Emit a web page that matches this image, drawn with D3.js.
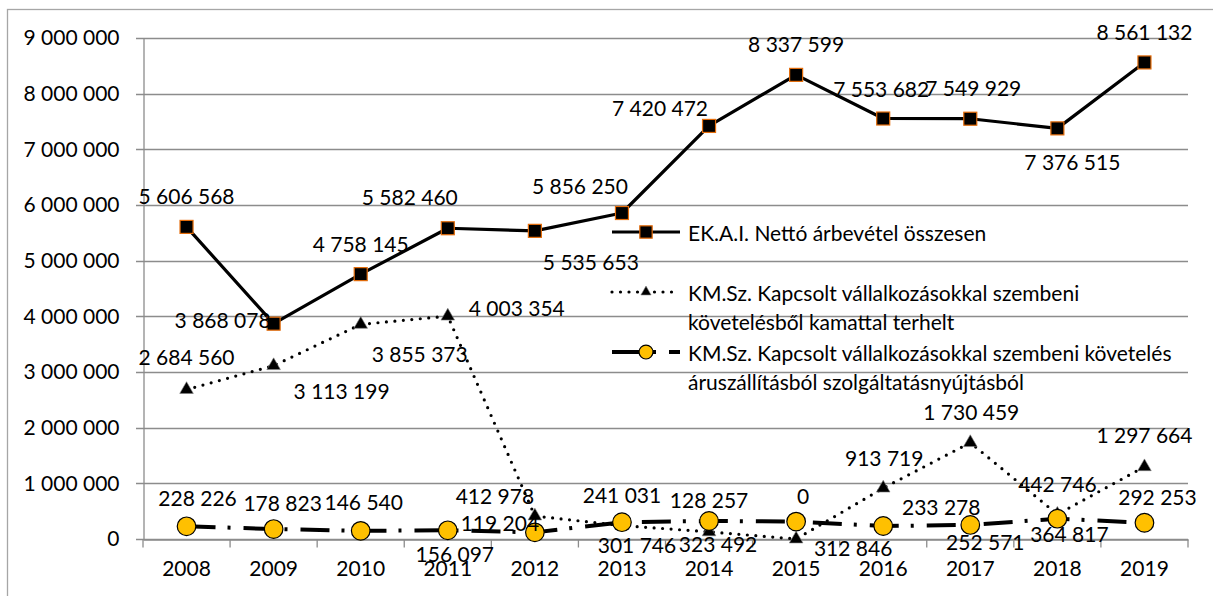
<!DOCTYPE html>
<html>
<head>
<meta charset="utf-8">
<script src="https://cdn.jsdelivr.net/npm/d3@7"></script>
<style>
  body { margin: 0; background: #fff; }
  svg text { font-family: Lato, "Open Sans", sans-serif; fill: #000; }
</style>
</head>
<body>
<svg id="chart" width="1213" height="596"></svg>
<script>
const years = ["2008", "2009", "2010", "2011", "2012", "2013", "2014", "2015", "2016", "2017", "2018", "2019"];
const netRevenue = [5606568, 3868078, 4758145, 5582460, 5535653, 5856250, 7420472, 8337599, 7553682, 7549929, 7376515, 8561132];
const interestClaims = [2684560, 3113199, 3855373, 4003354, 412978, 241031, 128257, 0, 913719, 1730459, 442746, 1297664];
const deliveryClaims = [228226, 178823, 146540, 156097, 119204, 301746, 323492, 312846, 233278, 252571, 364817, 292253];
const yTicks = [0, 1000000, 2000000, 3000000, 4000000, 5000000, 6000000, 7000000, 8000000, 9000000];
const seriesNames = [
  ["EK.A.I. Nettó árbevétel összesen"],
  ["KM.Sz. Kapcsolt vállalkozásokkal szembeni", "követelésből kamattal terhelt"],
  ["KM.Sz. Kapcsolt vállalkozásokkal szembeni követelés", "áruszállításból szolgáltatásnyújtásból"]
];

// label nudges (px from the marker), the way they were placed by hand in the original
const labelShift = [
  [[0,-31],[-51,-4],[0,-31],[-38,-32],[56,31],[-42,-28],[-49,-18],[0,-31],[-2,-30],[3,-31],[15,33],[0,-31]],
  [[0,-33],[68,25],[59,29],[69,-9],[-40,-21],[0,-31],[0,-32],[7,-44],[1,-31],[1,-31],[0,-31],[0,-32]],
  [[11,-29],[9,-27],[3,-29],[7,23],[-35,-10],[15,22],[9,23],[57,26],[58,-20],[15,17],[12,15],[13,-26]]
];

const svg = d3.select("#chart");
const fmt = v => d3.format(",")(v).replace(/,/g, " ");
const fontSize = 21;

const margin = { left: 143, right: 25, top: 38, bottom: 57 };
const W = 1213, H = 596;

const x = d3.scaleBand().domain(years).range([margin.left, W - margin.right]);
const y = d3.scaleLinear().domain([0, 9000000]).range([H - margin.bottom, margin.top]);
const cx = d => x(d) + x.bandwidth() / 2;

// chart border (runs off the right and bottom edges)
svg.append("rect")
  .attr("x", 7.5).attr("y", 9.5).attr("width", W).attr("height", H)
  .attr("fill", "none").attr("stroke", "#a6a6a6").attr("stroke-width", 1.3);

// gridlines
svg.append("g")
  .selectAll("line").data(yTicks).join("line")
  .attr("x1", margin.left - 7).attr("x2", W - margin.right)
  .attr("y1", d => Math.round(y(d)) + 0.5).attr("y2", d => Math.round(y(d)) + 0.5)
  .attr("stroke", "#8c8c8c").attr("stroke-width", 1.3);

// y axis
const yAxis = svg.append("g").attr("transform", `translate(${margin.left + 0.5},0)`)
  .call(d3.axisLeft(y).tickValues(yTicks).tickFormat(fmt).tickSize(0).tickPadding(24));
yAxis.select(".domain").attr("stroke", "#8c8c8c").attr("stroke-width", 1.3);
yAxis.selectAll("text").style("font-size", fontSize + "px").style("font-family", "Lato");

// x axis, ticks sit between categories
const xAxis = svg.append("g").attr("transform", `translate(0,${Math.round(y(0)) + 0.5})`)
  .call(d3.axisBottom(x).tickSize(0).tickPadding(22));
xAxis.select(".domain").attr("stroke", "#8c8c8c").attr("stroke-width", 1.3);
xAxis.selectAll("text").style("font-size", fontSize + "px").style("font-family", "Lato");
xAxis.selectAll(".sep").data(years.concat(["end"])).join("line")
  .attr("class", "sep")
  .attr("x1", (d, i) => margin.left + i * x.bandwidth())
  .attr("x2", (d, i) => margin.left + i * x.bandwidth())
  .attr("y1", 0).attr("y2", 8)
  .attr("stroke", "#8c8c8c").attr("stroke-width", 1.3);

const line = d3.line().x((d, i) => cx(years[i])).y(d => y(d));

const styles = [
  { dash: null, width: 3.2, cap: "butt" },
  { dash: "0,8.5", width: 3.2, cap: "round" },
  { dash: "29,12,3,13", width: 4, cap: "butt" }
];
const allSeries = [netRevenue, interestClaims, deliveryClaims];

function marker(g, k, s) {
  if (k === 0) {
    const h = 6.5 * s;
    g.append("rect").attr("x", -h).attr("y", -h).attr("width", 2 * h).attr("height", 2 * h)
      .attr("fill", "#000").attr("stroke", "#e46c0a").attr("stroke-width", 1.2);
  } else if (k === 1) {
    g.append("path").attr("d", d3.symbol(d3.symbolTriangle, 80 * s * s)())
      .attr("fill", "#000").attr("stroke", "#7f7f7f").attr("stroke-width", 0.6);
  } else {
    g.append("circle").attr("r", 9.3 * s).attr("fill", "#ffc000").attr("stroke", "#000").attr("stroke-width", 1.2);
  }
}

// lines and markers
allSeries.forEach((vals, k) => {
  const st = styles[k];
  svg.append("path").datum(vals)
    .attr("d", line).attr("fill", "none").attr("stroke", "#000")
    .attr("stroke-width", st.width).attr("stroke-linecap", st.cap)
    .attr("stroke-linejoin", "round")
    .attr("stroke-dasharray", st.dash);
  svg.append("g").selectAll("g").data(vals).join("g")
    .attr("transform", (d, i) => `translate(${cx(years[i])},${y(d)})`)
    .each(function () { marker(d3.select(this), k, 1); });
});

// legend
const legendX = 612, legendRows = [232, 292, 352];
seriesNames.forEach((lines, k) => {
  const ly = legendRows[k];
  const st = styles[k];
  const lg = svg.append("g");
  lg.append("line").attr("x1", legendX).attr("x2", legendX + 68)
    .attr("y1", ly).attr("y2", ly).attr("stroke", "#000")
    .attr("stroke-width", st.width).attr("stroke-linecap", st.cap)
    .attr("stroke-dasharray", st.dash);
  const m = lg.append("g").attr("transform", `translate(${legendX + 34},${ly})`);
  marker(m, k, k === 0 ? 0.95 : 0.75);
  lg.append("text").attr("x", legendX + 76).attr("y", ly)
    .attr("dominant-baseline", "central")
    .style("font-size", fontSize + "px")
    .selectAll("tspan").data(lines).join("tspan")
    .attr("x", legendX + 76).attr("dy", (d, i) => i === 0 ? 0 : 29)
    .text(d => d);
});

// data labels
allSeries.forEach((vals, k) => {
  svg.append("g").selectAll("text").data(vals).join("text")
    .attr("x", (d, i) => cx(years[i]) + labelShift[k][i][0])
    .attr("y", (d, i) => y(d) + labelShift[k][i][1])
    .attr("text-anchor", "middle").attr("dominant-baseline", "central")
    .style("font-size", fontSize + "px")
    .text(d => fmt(d));
});
</script>
</body>
</html>
